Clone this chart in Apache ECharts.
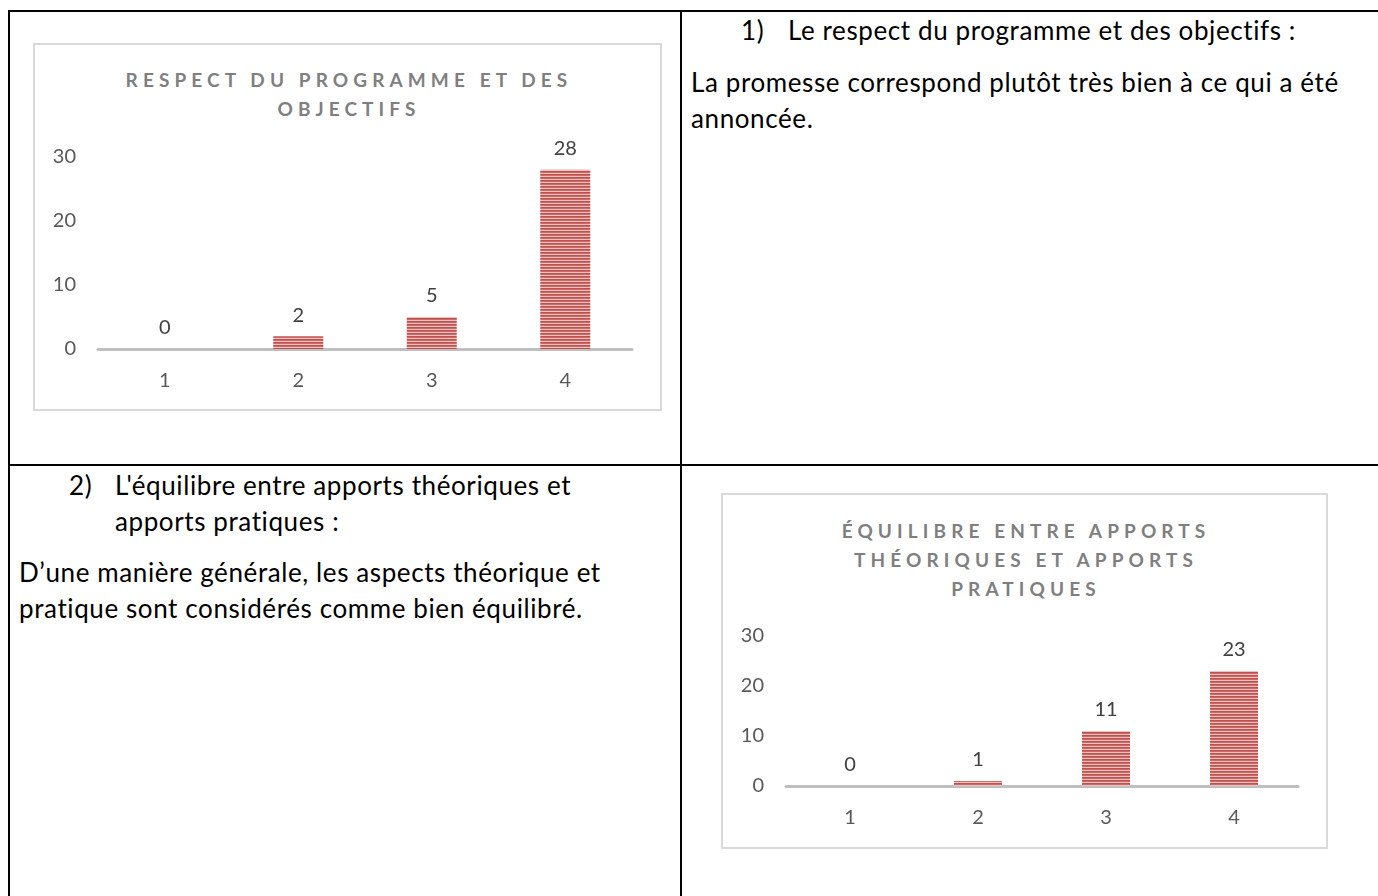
<!DOCTYPE html>
<html>
<head>
<meta charset="utf-8">
<script src="https://cdn.jsdelivr.net/npm/echarts@6/dist/echarts.min.js"></script>
<style>
  html, body { margin:0; padding:0; background:#fff; }
  body { width:1378px; height:896px; position:relative; overflow:hidden; font-family: Lato, "Open Sans", sans-serif; }
  .ln { position:absolute; background:#000; }
  .box { position:absolute; border:2px solid #D9D9D9; box-sizing:border-box; background:#fff; }
  .ttl { position:absolute; left:0; right:0; padding-left:3px; text-align:center; color:#7F7F7F; font-weight:bold; font-size:19px; letter-spacing:5.1px; line-height:29px; font-family: Lato, sans-serif; }
  .txt { position:absolute; font-size:26px; letter-spacing:0.6px; color:#000; white-space:nowrap; }
  .chart { position:absolute; }
</style>
</head>
<body>
<div class="ln" style="left:8px;top:10px;width:1370px;height:2px"></div>
<div class="ln" style="left:8px;top:10px;width:2px;height:886px"></div>
<div class="ln" style="left:680px;top:10px;width:2px;height:886px"></div>
<div class="ln" style="left:8px;top:464px;width:1370px;height:2px"></div>

<div class="box" style="left:33px;top:43px;width:629px;height:368px">
  <div class="ttl" style="top:20px">RESPECT DU PROGRAMME ET DES<br>OBJECTIFS</div>
</div>
<div class="chart" id="c1" style="left:35px;top:45px;width:625px;height:364px"></div>

<div class="box" style="left:721px;top:493px;width:607px;height:356px">
  <div class="ttl" style="top:21px">ÉQUILIBRE ENTRE APPORTS<br>THÉORIQUES ET APPORTS<br>PRATIQUES</div>
</div>
<div class="chart" id="c2" style="left:723px;top:495px;width:603px;height:352px"></div>

<div class="txt" style="left:741px;top:12px;line-height:36px">1)</div>
<div class="txt" style="left:788px;top:12px;line-height:36px">Le respect du programme et des objectifs :</div>
<div class="txt" style="left:691px;top:64px;line-height:36px">La promesse correspond plutôt très bien à ce qui a été<br>annoncée.</div>

<div class="txt" style="left:69px;top:467px;line-height:36px">2)</div>
<div class="txt" style="left:115px;top:467px;line-height:36px">L'équilibre entre apports théoriques et<br>apports pratiques :</div>
<div class="txt" style="left:19px;top:555px;line-height:35.5px">D’une manière générale, les aspects théorique et<br>pratique sont considérés comme bien équilibré.</div>

<script>
const categories = ['1', '2', '3', '4'];
const respectValues = [0, 2, 5, 28];
const equilibreValues = [0, 1, 11, 23];
const yTicks = { min: 0, max: 30, interval: 10 };

function stripe() {
  const c = document.createElement('canvas');
  c.width = 4; c.height = 3;
  const x = c.getContext('2d');
  x.fillStyle = '#C0504D'; x.fillRect(0, 0, 4, 1);
  x.fillStyle = '#CC6A68'; x.fillRect(0, 1, 4, 1);
  x.fillStyle = '#EDC3C2'; x.fillRect(0, 2, 4, 1);
  return c;
}
const pattern = { image: stripe(), repeat: 'repeat' };

function makeOption(values, grid, barWidth) {
  return {
    animation: false,
    grid: grid,
    xAxis: {
      type: 'category', data: categories,
      axisLine: { lineStyle: { color: '#BFBFBF', width: 3 } },
      axisTick: { show: false },
      axisLabel: { color: '#595959', fontSize: 20, margin: 22, fontFamily: 'Lato' }
    },
    yAxis: {
      type: 'value', min: yTicks.min, max: yTicks.max, interval: yTicks.interval,
      axisLine: { show: false }, axisTick: { show: false },
      splitLine: { show: false },
      axisLabel: { color: '#595959', fontSize: 20, margin: 22, fontFamily: 'Lato' }
    },
    series: [{
      type: 'bar', data: values, barWidth: barWidth,
      itemStyle: { color: pattern },
      label: { show: true, position: 'top', distance: 11, color: '#404040', fontSize: 20, fontFamily: 'Lato' }
    }]
  };
}

const c1 = echarts.init(document.getElementById('c1'));
c1.setOption(makeOption(respectValues, { left: 63, right: 28, top: 112, bottom: 60 }, 50));
const c2 = echarts.init(document.getElementById('c2'));
c2.setOption(makeOption(equilibreValues, { left: 63, right: 28, top: 141, bottom: 61 }, 48));
</script>
</body>
</html>
